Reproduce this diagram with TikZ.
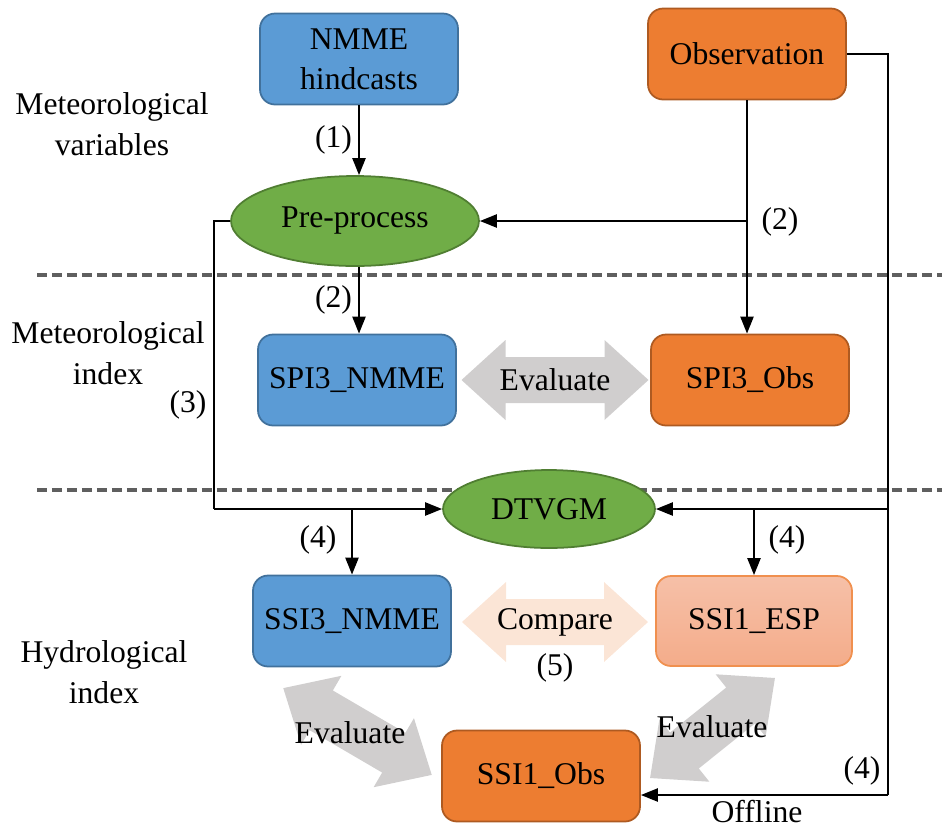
\documentclass[tikz,border=0pt]{standalone}
\usepackage{fontspec}
\setmainfont{Liberation Serif}
\usetikzlibrary{arrows.meta,shapes.geometric}

\definecolor{boxblue}{HTML}{5B9BD5}
\definecolor{lineblue}{HTML}{41719C}
\definecolor{boxorange}{HTML}{ED7D31}
\definecolor{lineorange}{HTML}{AE5A21}
\definecolor{boxgreen}{HTML}{70AD47}
\definecolor{linegreen}{HTML}{507E32}
\definecolor{espfill}{HTML}{F4AC8A}
\definecolor{esptop}{HTML}{F6C0A8}
\definecolor{espline}{HTML}{F0904F}
\definecolor{evalgray}{HTML}{D0CECE}
\definecolor{cmpfill}{HTML}{FBE5D6}
\definecolor{dashgray}{HTML}{5F5F5F}

% flecha gruesa doble: centro, angulo, largo, color
\newcommand{\fatarrow}[4]{%
  \begin{scope}[shift={#1},rotate=#2]
    \fill[#4] (-#3/2,0) -- (-#3/2+44,40) -- (-#3/2+44,23) -- (#3/2-44,23)
      -- (#3/2-44,40) -- (#3/2,0) -- (#3/2-44,-40) -- (#3/2-44,-23)
      -- (-#3/2+44,-23) -- (-#3/2+44,-40) -- cycle;
  \end{scope}}

\tikzset{
  every node/.style={font=\fontsize{18}{23}\selectfont},
  bluebox/.style={rectangle, rounded corners=0.3cm, fill=boxblue, draw=lineblue,
    line width=1pt, minimum width=3.96cm, minimum height=1.82cm, align=center},
  orangebox/.style={bluebox, fill=boxorange, draw=lineorange},
  espbox/.style={bluebox, top color=esptop, bottom color=espfill, draw=espline},
  greenoval/.style={ellipse, fill=boxgreen, draw=linegreen, line width=1pt},
  arr/.style={line width=1.3pt, -{Triangle[length=0.34cm,width=0.26cm]}},
  thinline/.style={line width=0.8pt},
  layer/.style={dashgray, line width=2pt, dash pattern=on 0.2cm off 0.1cm}
}

\begin{document}
\begin{tikzpicture}[x=0.02cm,y=-0.02cm]
        \useasboundingbox (0,0) rectangle (942,829);

        % Capas
        \draw[layer] (37,275) -- (942,275);
        \draw[layer] (37,490) -- (942,490);

        \node[align=center] (labvar) at (112,124) {Meteorological\\variables};
        \node[align=center] (labmet) at (108,353) {Meteorological\\index};
        \node[align=center] (labhyd) at (104,672) {Hydrological\\index};

        % Flechas grises
        \fatarrow{(555,380)}{0}{187}{evalgray}
        \fatarrow{(555,622)}{0}{186}{cmpfill}
        \fatarrow{(357.5,731.5)}{-30.3}{172}{evalgray}
        \fatarrow{(712.5,728)}{38.7}{160}{evalgray}

        % Nodos
        \node[bluebox] (nmme) at (359,59) {NMME\\hindcasts};
        \node[orangebox] (obs) at (747,54) {Observation};
        \node[greenoval, minimum width=4.96cm, minimum height=1.8cm] (pre) at (355,221) {Pre-process};
        \node[bluebox] (spinmme) at (357,380) {SPI3\_NMME};
        \node[orangebox] (spiobs) at (750,380) {SPI3\_Obs};
        \node[greenoval, minimum width=4.24cm, minimum height=1.56cm] (dtvgm) at (549,509) {DTVGM};
        \node[bluebox] (ssinmme) at (352,621) {SSI3\_NMME};
        \node[espbox, minimum width=3.92cm, minimum height=1.8cm] (ssiesp) at (754,621) {SSI1\_ESP};
        \node[orangebox] (ssiobs) at (541,776) {SSI1\_Obs};

        % Textos de las flechas
        \node (ev1) at (555,380) {Evaluate};
        \node (cmp) at (555,622) {Compare};
        \node (n5) at (555,668) {(5)};
        \node (ev2) at (350,733) {Evaluate};
        \node (ev3) at (712,727) {Evaluate};

        % Conectores
        \draw[arr] (nmme.south) -- (nmme.south |- pre.north) node[midway, left] (n1) {(1)};
        \coordinate (br2) at (obs.south |- pre.east);
        \draw[arr] (obs.south) -- (obs.south |- spiobs.north);
        \draw[arr] (br2) -- (pre.east);
        \node (n2a) at (780,222) {(2)};
        \draw[arr] (pre.south -| nmme.south) -- (nmme.south |- spinmme.north) node[midway, left] (n2b) {(2)};

        \draw[thinline] (pre.west) -- ++(-16,0) coordinate (lt) -- (lt |- dtvgm.west);
        \draw[arr] (lt |- dtvgm.west) -- (dtvgm.west);
        \node (n3) at (188,405) {(3)};
        \draw[arr] (ssinmme.north |- dtvgm.west) -- (ssinmme.north);
        \node (n4a) at (318,540) {(4)};

        \coordinate (rt) at (888,795);
        \draw[thinline] (obs.east) -| (rt);
        \draw[arr] (rt |- dtvgm.east) -- (dtvgm.east);
        \draw[arr] (ssiesp.north |- dtvgm.east) -- (ssiesp.north);
        \node (n4b) at (787,540) {(4)};
        \draw[arr] (rt) -- (ssiobs.east |- rt);
        \node (n4c) at (862,771) {(4)};
        \node (offl) at (757,812) {Offline};
\end{tikzpicture}
\end{document}
